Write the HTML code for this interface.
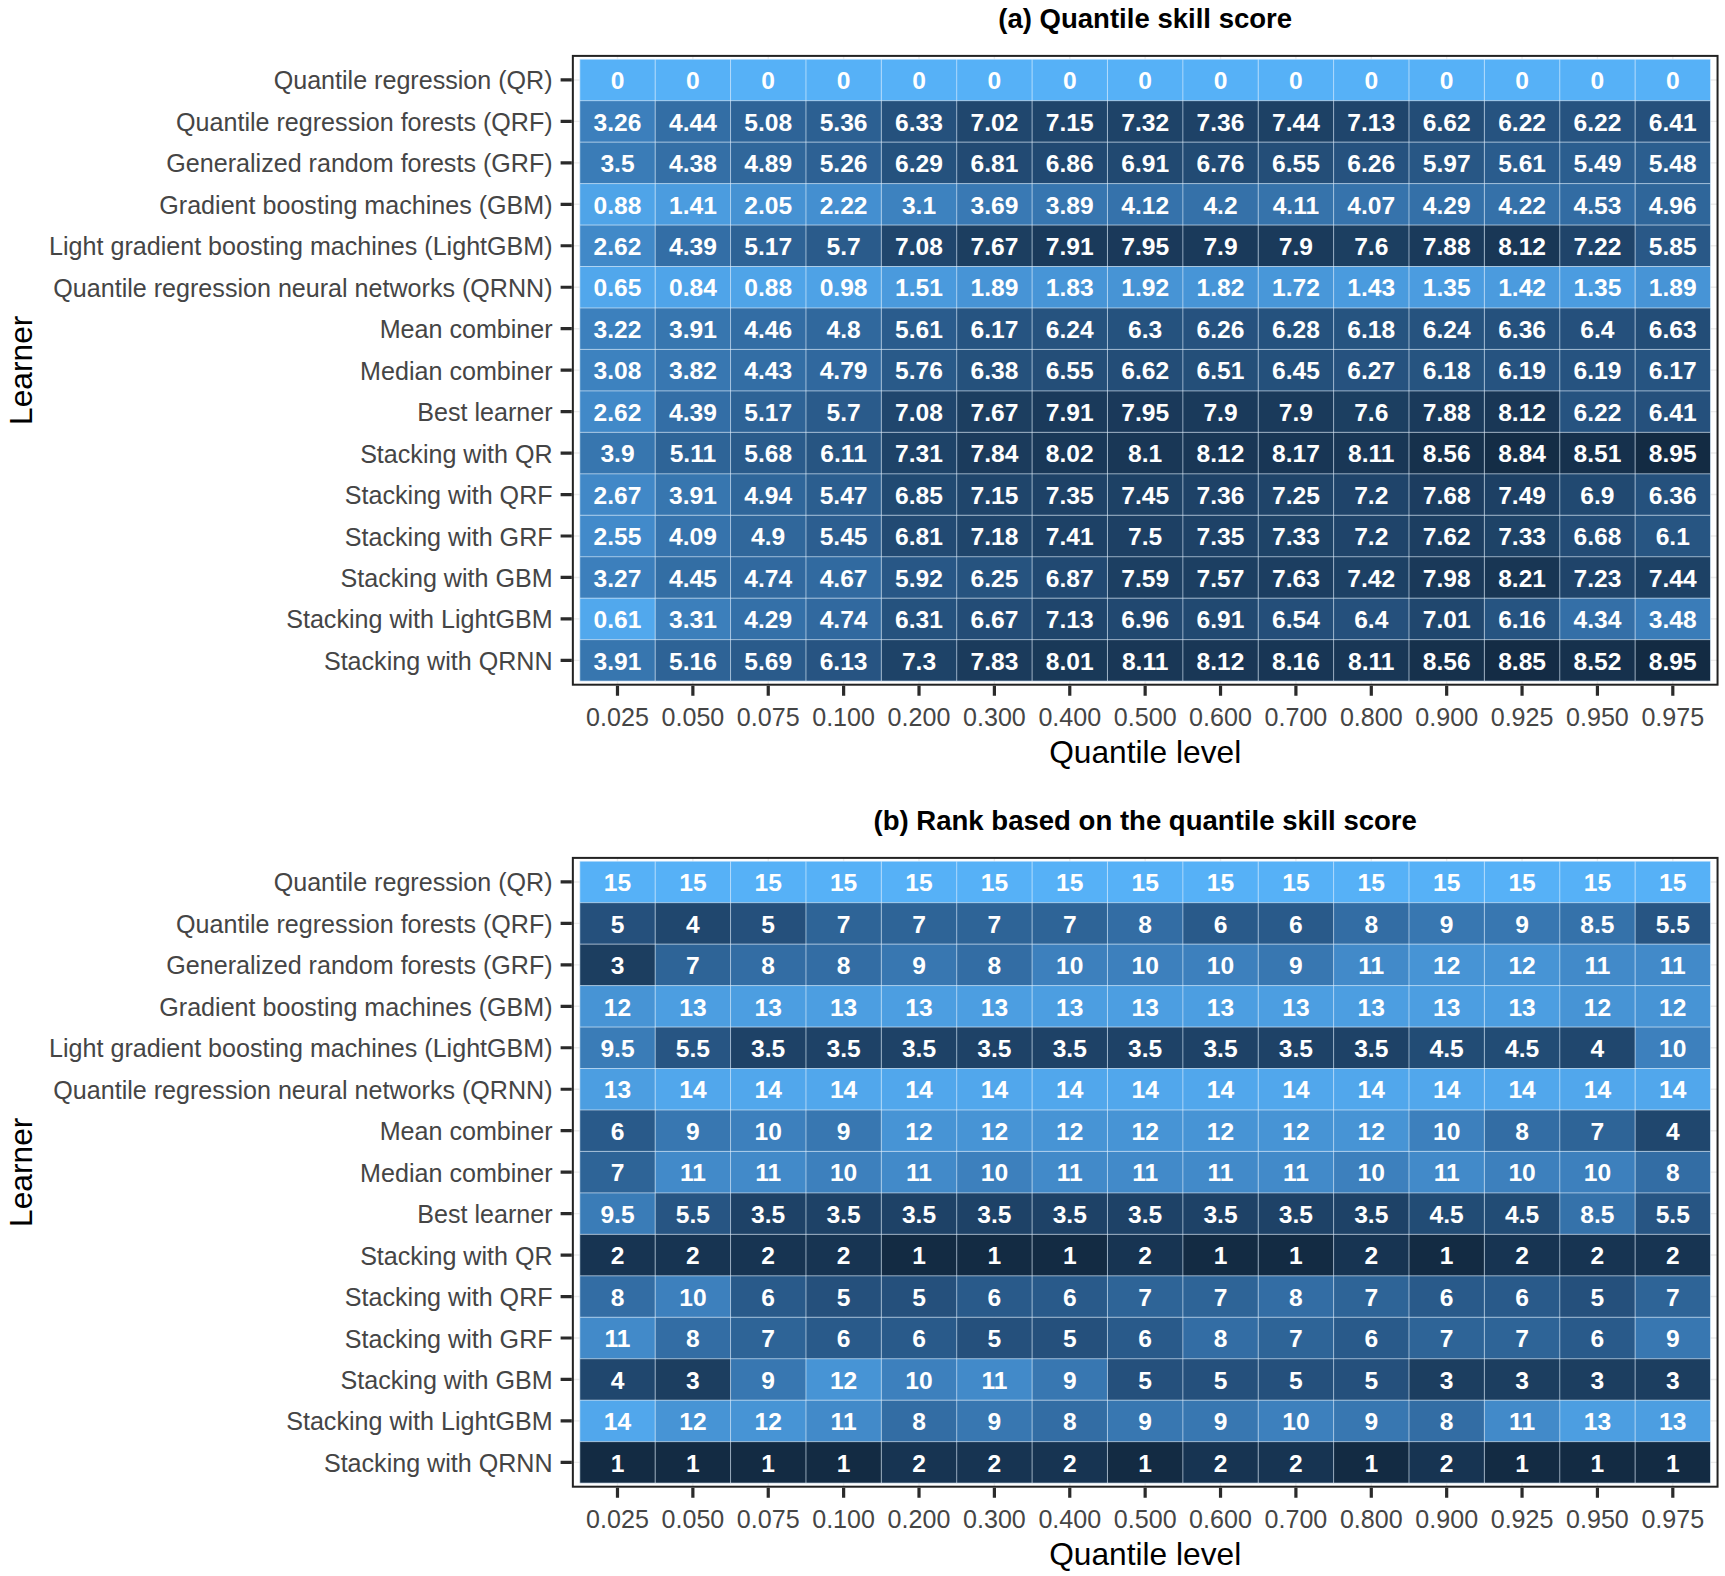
<!DOCTYPE html>
<html lang="en"><head><meta charset="utf-8"><title>Quantile skill score heatmaps</title>
<style>
html,body{margin:0;padding:0;background:#fff;}
body{width:1725px;height:1576px;overflow:hidden;}
svg{display:block;font-family:"Liberation Sans",Arial,Helvetica,sans-serif;}
.tt{font-size:27.55px;font-weight:bold;fill:#000;}
.ax text{font-size:25.1px;fill:#454545;}
.at{font-size:31.7px;fill:#000;}
.cl text{font-size:24.6px;font-weight:bold;fill:#fff;}
</style></head><body>
<svg width="1725" height="1576" viewBox="0 0 1725 1576">
<rect width="1725" height="1576" fill="#ffffff"/>
<g transform="translate(0,0)">
<text class="tt" x="1145.2" y="27.6" text-anchor="middle">(a) Quantile skill score</text>
<path d="M572.9 79.93H1717.5M572.9 121.39H1717.5M572.9 162.85H1717.5M572.9 204.31H1717.5M572.9 245.77H1717.5M572.9 287.23H1717.5M572.9 328.69H1717.5M572.9 370.15H1717.5M572.9 411.61H1717.5M572.9 453.07H1717.5M572.9 494.53H1717.5M572.9 535.99H1717.5M572.9 577.45H1717.5M572.9 618.91H1717.5M572.9 660.37H1717.5M617.49 55.9V684.7M692.87 55.9V684.7M768.25 55.9V684.7M843.63 55.9V684.7M919.01 55.9V684.7M994.39 55.9V684.7M1069.77 55.9V684.7M1145.15 55.9V684.7M1220.53 55.9V684.7M1295.91 55.9V684.7M1371.29 55.9V684.7M1446.67 55.9V684.7M1522.05 55.9V684.7M1597.43 55.9V684.7M1672.81 55.9V684.7" stroke="#ebebeb" stroke-width="1.4" fill="none"/>
<rect x="579.80" y="59.20" width="75.68" height="41.76" fill="#56b1f7"/>
<rect x="655.18" y="59.20" width="75.68" height="41.76" fill="#56b1f7"/>
<rect x="730.56" y="59.20" width="75.68" height="41.76" fill="#56b1f7"/>
<rect x="805.94" y="59.20" width="75.68" height="41.76" fill="#56b1f7"/>
<rect x="881.32" y="59.20" width="75.68" height="41.76" fill="#56b1f7"/>
<rect x="956.70" y="59.20" width="75.68" height="41.76" fill="#56b1f7"/>
<rect x="1032.08" y="59.20" width="75.68" height="41.76" fill="#56b1f7"/>
<rect x="1107.46" y="59.20" width="75.68" height="41.76" fill="#56b1f7"/>
<rect x="1182.84" y="59.20" width="75.68" height="41.76" fill="#56b1f7"/>
<rect x="1258.22" y="59.20" width="75.68" height="41.76" fill="#56b1f7"/>
<rect x="1333.60" y="59.20" width="75.68" height="41.76" fill="#56b1f7"/>
<rect x="1408.98" y="59.20" width="75.68" height="41.76" fill="#56b1f7"/>
<rect x="1484.36" y="59.20" width="75.68" height="41.76" fill="#56b1f7"/>
<rect x="1559.74" y="59.20" width="75.68" height="41.76" fill="#56b1f7"/>
<rect x="1635.12" y="59.20" width="75.38" height="41.76" fill="#56b1f7"/>
<rect x="579.80" y="100.66" width="75.68" height="41.76" fill="#3c7fbc"/>
<rect x="655.18" y="100.66" width="75.68" height="41.76" fill="#336ea5"/>
<rect x="730.56" y="100.66" width="75.68" height="41.76" fill="#2e6498"/>
<rect x="805.94" y="100.66" width="75.68" height="41.76" fill="#2c6092"/>
<rect x="881.32" y="100.66" width="75.68" height="41.76" fill="#25517d"/>
<rect x="956.70" y="100.66" width="75.68" height="41.76" fill="#20476e"/>
<rect x="1032.08" y="100.66" width="75.68" height="41.76" fill="#1f456b"/>
<rect x="1107.46" y="100.66" width="75.68" height="41.76" fill="#1e4368"/>
<rect x="1182.84" y="100.66" width="75.68" height="41.76" fill="#1e4267"/>
<rect x="1258.22" y="100.66" width="75.68" height="41.76" fill="#1d4165"/>
<rect x="1333.60" y="100.66" width="75.68" height="41.76" fill="#1f456c"/>
<rect x="1408.98" y="100.66" width="75.68" height="41.76" fill="#234d77"/>
<rect x="1484.36" y="100.66" width="75.68" height="41.76" fill="#265380"/>
<rect x="1559.74" y="100.66" width="75.68" height="41.76" fill="#265380"/>
<rect x="1635.12" y="100.66" width="75.38" height="41.76" fill="#25507c"/>
<rect x="579.80" y="142.12" width="75.68" height="41.76" fill="#3a7cb7"/>
<rect x="655.18" y="142.12" width="75.68" height="41.76" fill="#346fa6"/>
<rect x="730.56" y="142.12" width="75.68" height="41.76" fill="#30679b"/>
<rect x="805.94" y="142.12" width="75.68" height="41.76" fill="#2d6194"/>
<rect x="881.32" y="142.12" width="75.68" height="41.76" fill="#25527e"/>
<rect x="956.70" y="142.12" width="75.68" height="41.76" fill="#224a73"/>
<rect x="1032.08" y="142.12" width="75.68" height="41.76" fill="#214972"/>
<rect x="1107.46" y="142.12" width="75.68" height="41.76" fill="#214971"/>
<rect x="1182.84" y="142.12" width="75.68" height="41.76" fill="#224b74"/>
<rect x="1258.22" y="142.12" width="75.68" height="41.76" fill="#244e78"/>
<rect x="1333.60" y="142.12" width="75.68" height="41.76" fill="#26527f"/>
<rect x="1408.98" y="142.12" width="75.68" height="41.76" fill="#285785"/>
<rect x="1484.36" y="142.12" width="75.68" height="41.76" fill="#2a5c8d"/>
<rect x="1559.74" y="142.12" width="75.68" height="41.76" fill="#2b5e8f"/>
<rect x="1635.12" y="142.12" width="75.38" height="41.76" fill="#2b5e8f"/>
<rect x="579.80" y="183.58" width="75.68" height="41.76" fill="#4fa4e8"/>
<rect x="655.18" y="183.58" width="75.68" height="41.76" fill="#4b9cdf"/>
<rect x="730.56" y="183.58" width="75.68" height="41.76" fill="#4692d3"/>
<rect x="805.94" y="183.58" width="75.68" height="41.76" fill="#448fd0"/>
<rect x="881.32" y="183.58" width="75.68" height="41.76" fill="#3d82bf"/>
<rect x="956.70" y="183.58" width="75.68" height="41.76" fill="#3979b4"/>
<rect x="1032.08" y="183.58" width="75.68" height="41.76" fill="#3776b0"/>
<rect x="1107.46" y="183.58" width="75.68" height="41.76" fill="#3572ab"/>
<rect x="1182.84" y="183.58" width="75.68" height="41.76" fill="#3571a9"/>
<rect x="1258.22" y="183.58" width="75.68" height="41.76" fill="#3673ab"/>
<rect x="1333.60" y="183.58" width="75.68" height="41.76" fill="#3673ac"/>
<rect x="1408.98" y="183.58" width="75.68" height="41.76" fill="#3470a8"/>
<rect x="1484.36" y="183.58" width="75.68" height="41.76" fill="#3571a9"/>
<rect x="1559.74" y="183.58" width="75.68" height="41.76" fill="#326ca3"/>
<rect x="1635.12" y="183.58" width="75.38" height="41.76" fill="#2f669a"/>
<rect x="579.80" y="225.04" width="75.68" height="41.76" fill="#4189c8"/>
<rect x="655.18" y="225.04" width="75.68" height="41.76" fill="#336ea6"/>
<rect x="730.56" y="225.04" width="75.68" height="41.76" fill="#2e6396"/>
<rect x="805.94" y="225.04" width="75.68" height="41.76" fill="#2a5b8b"/>
<rect x="881.32" y="225.04" width="75.68" height="41.76" fill="#20466d"/>
<rect x="956.70" y="225.04" width="75.68" height="41.76" fill="#1c3e60"/>
<rect x="1032.08" y="225.04" width="75.68" height="41.76" fill="#1a3a5b"/>
<rect x="1107.46" y="225.04" width="75.68" height="41.76" fill="#1a395a"/>
<rect x="1182.84" y="225.04" width="75.68" height="41.76" fill="#1a3a5b"/>
<rect x="1258.22" y="225.04" width="75.68" height="41.76" fill="#1a3a5b"/>
<rect x="1333.60" y="225.04" width="75.68" height="41.76" fill="#1c3f61"/>
<rect x="1408.98" y="225.04" width="75.68" height="41.76" fill="#1a3a5b"/>
<rect x="1484.36" y="225.04" width="75.68" height="41.76" fill="#193756"/>
<rect x="1559.74" y="225.04" width="75.68" height="41.76" fill="#1f446a"/>
<rect x="1635.12" y="225.04" width="75.38" height="41.76" fill="#295887"/>
<rect x="579.80" y="266.50" width="75.68" height="41.76" fill="#51a7ec"/>
<rect x="655.18" y="266.50" width="75.68" height="41.76" fill="#4fa4e9"/>
<rect x="730.56" y="266.50" width="75.68" height="41.76" fill="#4fa4e8"/>
<rect x="805.94" y="266.50" width="75.68" height="41.76" fill="#4ea2e6"/>
<rect x="881.32" y="266.50" width="75.68" height="41.76" fill="#4a9add"/>
<rect x="956.70" y="266.50" width="75.68" height="41.76" fill="#4794d6"/>
<rect x="1032.08" y="266.50" width="75.68" height="41.76" fill="#4795d7"/>
<rect x="1107.46" y="266.50" width="75.68" height="41.76" fill="#4794d5"/>
<rect x="1182.84" y="266.50" width="75.68" height="41.76" fill="#4795d7"/>
<rect x="1258.22" y="266.50" width="75.68" height="41.76" fill="#4897d9"/>
<rect x="1333.60" y="266.50" width="75.68" height="41.76" fill="#4a9bde"/>
<rect x="1408.98" y="266.50" width="75.68" height="41.76" fill="#4b9ce0"/>
<rect x="1484.36" y="266.50" width="75.68" height="41.76" fill="#4b9bde"/>
<rect x="1559.74" y="266.50" width="75.68" height="41.76" fill="#4b9ce0"/>
<rect x="1635.12" y="266.50" width="75.38" height="41.76" fill="#4794d6"/>
<rect x="579.80" y="307.96" width="75.68" height="41.76" fill="#3c80bd"/>
<rect x="655.18" y="307.96" width="75.68" height="41.76" fill="#3776af"/>
<rect x="730.56" y="307.96" width="75.68" height="41.76" fill="#336da4"/>
<rect x="805.94" y="307.96" width="75.68" height="41.76" fill="#30689d"/>
<rect x="881.32" y="307.96" width="75.68" height="41.76" fill="#2a5c8d"/>
<rect x="956.70" y="307.96" width="75.68" height="41.76" fill="#265481"/>
<rect x="1032.08" y="307.96" width="75.68" height="41.76" fill="#26537f"/>
<rect x="1107.46" y="307.96" width="75.68" height="41.76" fill="#25527e"/>
<rect x="1182.84" y="307.96" width="75.68" height="41.76" fill="#26527f"/>
<rect x="1258.22" y="307.96" width="75.68" height="41.76" fill="#25527e"/>
<rect x="1333.60" y="307.96" width="75.68" height="41.76" fill="#265480"/>
<rect x="1408.98" y="307.96" width="75.68" height="41.76" fill="#26537f"/>
<rect x="1484.36" y="307.96" width="75.68" height="41.76" fill="#25517d"/>
<rect x="1559.74" y="307.96" width="75.68" height="41.76" fill="#25507c"/>
<rect x="1635.12" y="307.96" width="75.38" height="41.76" fill="#234d77"/>
<rect x="579.80" y="349.42" width="75.68" height="41.76" fill="#3d82bf"/>
<rect x="655.18" y="349.42" width="75.68" height="41.76" fill="#3877b1"/>
<rect x="730.56" y="349.42" width="75.68" height="41.76" fill="#336ea5"/>
<rect x="805.94" y="349.42" width="75.68" height="41.76" fill="#30689e"/>
<rect x="881.32" y="349.42" width="75.68" height="41.76" fill="#295a89"/>
<rect x="956.70" y="349.42" width="75.68" height="41.76" fill="#25517c"/>
<rect x="1032.08" y="349.42" width="75.68" height="41.76" fill="#244e78"/>
<rect x="1107.46" y="349.42" width="75.68" height="41.76" fill="#234d77"/>
<rect x="1182.84" y="349.42" width="75.68" height="41.76" fill="#244f79"/>
<rect x="1258.22" y="349.42" width="75.68" height="41.76" fill="#24507b"/>
<rect x="1333.60" y="349.42" width="75.68" height="41.76" fill="#26527f"/>
<rect x="1408.98" y="349.42" width="75.68" height="41.76" fill="#265480"/>
<rect x="1484.36" y="349.42" width="75.68" height="41.76" fill="#265380"/>
<rect x="1559.74" y="349.42" width="75.68" height="41.76" fill="#265380"/>
<rect x="1635.12" y="349.42" width="75.38" height="41.76" fill="#265481"/>
<rect x="579.80" y="390.88" width="75.68" height="41.76" fill="#4189c8"/>
<rect x="655.18" y="390.88" width="75.68" height="41.76" fill="#336ea6"/>
<rect x="730.56" y="390.88" width="75.68" height="41.76" fill="#2e6396"/>
<rect x="805.94" y="390.88" width="75.68" height="41.76" fill="#2a5b8b"/>
<rect x="881.32" y="390.88" width="75.68" height="41.76" fill="#20466d"/>
<rect x="956.70" y="390.88" width="75.68" height="41.76" fill="#1c3e60"/>
<rect x="1032.08" y="390.88" width="75.68" height="41.76" fill="#1a3a5b"/>
<rect x="1107.46" y="390.88" width="75.68" height="41.76" fill="#1a395a"/>
<rect x="1182.84" y="390.88" width="75.68" height="41.76" fill="#1a3a5b"/>
<rect x="1258.22" y="390.88" width="75.68" height="41.76" fill="#1a3a5b"/>
<rect x="1333.60" y="390.88" width="75.68" height="41.76" fill="#1c3f61"/>
<rect x="1408.98" y="390.88" width="75.68" height="41.76" fill="#1a3a5b"/>
<rect x="1484.36" y="390.88" width="75.68" height="41.76" fill="#193756"/>
<rect x="1559.74" y="390.88" width="75.68" height="41.76" fill="#265380"/>
<rect x="1635.12" y="390.88" width="75.38" height="41.76" fill="#25507c"/>
<rect x="579.80" y="432.34" width="75.68" height="41.76" fill="#3776af"/>
<rect x="655.18" y="432.34" width="75.68" height="41.76" fill="#2e6497"/>
<rect x="730.56" y="432.34" width="75.68" height="41.76" fill="#2a5b8b"/>
<rect x="805.94" y="432.34" width="75.68" height="41.76" fill="#275582"/>
<rect x="881.32" y="432.34" width="75.68" height="41.76" fill="#1e4368"/>
<rect x="956.70" y="432.34" width="75.68" height="41.76" fill="#1b3b5c"/>
<rect x="1032.08" y="432.34" width="75.68" height="41.76" fill="#193858"/>
<rect x="1107.46" y="432.34" width="75.68" height="41.76" fill="#193756"/>
<rect x="1182.84" y="432.34" width="75.68" height="41.76" fill="#193756"/>
<rect x="1258.22" y="432.34" width="75.68" height="41.76" fill="#183655"/>
<rect x="1333.60" y="432.34" width="75.68" height="41.76" fill="#193756"/>
<rect x="1408.98" y="432.34" width="75.68" height="41.76" fill="#16314c"/>
<rect x="1484.36" y="432.34" width="75.68" height="41.76" fill="#142d46"/>
<rect x="1559.74" y="432.34" width="75.68" height="41.76" fill="#16314d"/>
<rect x="1635.12" y="432.34" width="75.38" height="41.76" fill="#132b43"/>
<rect x="579.80" y="473.80" width="75.68" height="41.76" fill="#4188c7"/>
<rect x="655.18" y="473.80" width="75.68" height="41.76" fill="#3776af"/>
<rect x="730.56" y="473.80" width="75.68" height="41.76" fill="#2f669a"/>
<rect x="805.94" y="473.80" width="75.68" height="41.76" fill="#2b5e8f"/>
<rect x="881.32" y="473.80" width="75.68" height="41.76" fill="#214a72"/>
<rect x="956.70" y="473.80" width="75.68" height="41.76" fill="#1f456b"/>
<rect x="1032.08" y="473.80" width="75.68" height="41.76" fill="#1e4267"/>
<rect x="1107.46" y="473.80" width="75.68" height="41.76" fill="#1d4165"/>
<rect x="1182.84" y="473.80" width="75.68" height="41.76" fill="#1e4267"/>
<rect x="1258.22" y="473.80" width="75.68" height="41.76" fill="#1f4469"/>
<rect x="1333.60" y="473.80" width="75.68" height="41.76" fill="#1f446a"/>
<rect x="1408.98" y="473.80" width="75.68" height="41.76" fill="#1c3d60"/>
<rect x="1484.36" y="473.80" width="75.68" height="41.76" fill="#1d4064"/>
<rect x="1559.74" y="473.80" width="75.68" height="41.76" fill="#214971"/>
<rect x="1635.12" y="473.80" width="75.38" height="41.76" fill="#25517d"/>
<rect x="579.80" y="515.26" width="75.68" height="41.76" fill="#428aca"/>
<rect x="655.18" y="515.26" width="75.68" height="41.76" fill="#3673ac"/>
<rect x="730.56" y="515.26" width="75.68" height="41.76" fill="#30679b"/>
<rect x="805.94" y="515.26" width="75.68" height="41.76" fill="#2c5e90"/>
<rect x="881.32" y="515.26" width="75.68" height="41.76" fill="#224a73"/>
<rect x="956.70" y="515.26" width="75.68" height="41.76" fill="#1f456b"/>
<rect x="1032.08" y="515.26" width="75.68" height="41.76" fill="#1d4166"/>
<rect x="1107.46" y="515.26" width="75.68" height="41.76" fill="#1d4064"/>
<rect x="1182.84" y="515.26" width="75.68" height="41.76" fill="#1e4267"/>
<rect x="1258.22" y="515.26" width="75.68" height="41.76" fill="#1e4367"/>
<rect x="1333.60" y="515.26" width="75.68" height="41.76" fill="#1f446a"/>
<rect x="1408.98" y="515.26" width="75.68" height="41.76" fill="#1c3e61"/>
<rect x="1484.36" y="515.26" width="75.68" height="41.76" fill="#1e4367"/>
<rect x="1559.74" y="515.26" width="75.68" height="41.76" fill="#234c76"/>
<rect x="1635.12" y="515.26" width="75.38" height="41.76" fill="#275582"/>
<rect x="579.80" y="556.72" width="75.68" height="41.76" fill="#3c7fbc"/>
<rect x="655.18" y="556.72" width="75.68" height="41.76" fill="#336ea4"/>
<rect x="730.56" y="556.72" width="75.68" height="41.76" fill="#31699f"/>
<rect x="805.94" y="556.72" width="75.68" height="41.76" fill="#316aa0"/>
<rect x="881.32" y="556.72" width="75.68" height="41.76" fill="#285786"/>
<rect x="956.70" y="556.72" width="75.68" height="41.76" fill="#26537f"/>
<rect x="1032.08" y="556.72" width="75.68" height="41.76" fill="#214972"/>
<rect x="1107.46" y="556.72" width="75.68" height="41.76" fill="#1c3f62"/>
<rect x="1182.84" y="556.72" width="75.68" height="41.76" fill="#1c3f62"/>
<rect x="1258.22" y="556.72" width="75.68" height="41.76" fill="#1c3e61"/>
<rect x="1333.60" y="556.72" width="75.68" height="41.76" fill="#1d4165"/>
<rect x="1408.98" y="556.72" width="75.68" height="41.76" fill="#1a3959"/>
<rect x="1484.36" y="556.72" width="75.68" height="41.76" fill="#183654"/>
<rect x="1559.74" y="556.72" width="75.68" height="41.76" fill="#1f446a"/>
<rect x="1635.12" y="556.72" width="75.38" height="41.76" fill="#1d4165"/>
<rect x="579.80" y="598.18" width="75.68" height="41.76" fill="#51a8ed"/>
<rect x="655.18" y="598.18" width="75.68" height="41.76" fill="#3c7fbb"/>
<rect x="730.56" y="598.18" width="75.68" height="41.76" fill="#3470a8"/>
<rect x="805.94" y="598.18" width="75.68" height="41.76" fill="#31699f"/>
<rect x="881.32" y="598.18" width="75.68" height="41.76" fill="#25527e"/>
<rect x="956.70" y="598.18" width="75.68" height="41.76" fill="#234c76"/>
<rect x="1032.08" y="598.18" width="75.68" height="41.76" fill="#1f456c"/>
<rect x="1107.46" y="598.18" width="75.68" height="41.76" fill="#214870"/>
<rect x="1182.84" y="598.18" width="75.68" height="41.76" fill="#214971"/>
<rect x="1258.22" y="598.18" width="75.68" height="41.76" fill="#244e79"/>
<rect x="1333.60" y="598.18" width="75.68" height="41.76" fill="#25507c"/>
<rect x="1408.98" y="598.18" width="75.68" height="41.76" fill="#20476e"/>
<rect x="1484.36" y="598.18" width="75.68" height="41.76" fill="#265481"/>
<rect x="1559.74" y="598.18" width="75.68" height="41.76" fill="#346fa7"/>
<rect x="1635.12" y="598.18" width="75.38" height="41.76" fill="#3a7cb8"/>
<rect x="579.80" y="639.64" width="75.68" height="41.46" fill="#3776af"/>
<rect x="655.18" y="639.64" width="75.68" height="41.46" fill="#2e6396"/>
<rect x="730.56" y="639.64" width="75.68" height="41.46" fill="#2a5b8b"/>
<rect x="805.94" y="639.64" width="75.68" height="41.46" fill="#275482"/>
<rect x="881.32" y="639.64" width="75.68" height="41.46" fill="#1e4368"/>
<rect x="956.70" y="639.64" width="75.68" height="41.46" fill="#1b3b5c"/>
<rect x="1032.08" y="639.64" width="75.68" height="41.46" fill="#193958"/>
<rect x="1107.46" y="639.64" width="75.68" height="41.46" fill="#193756"/>
<rect x="1182.84" y="639.64" width="75.68" height="41.46" fill="#193756"/>
<rect x="1258.22" y="639.64" width="75.68" height="41.46" fill="#183655"/>
<rect x="1333.60" y="639.64" width="75.68" height="41.46" fill="#193756"/>
<rect x="1408.98" y="639.64" width="75.68" height="41.46" fill="#16314c"/>
<rect x="1484.36" y="639.64" width="75.68" height="41.46" fill="#142c45"/>
<rect x="1559.74" y="639.64" width="75.68" height="41.46" fill="#16314d"/>
<rect x="1635.12" y="639.64" width="75.38" height="41.46" fill="#132b43"/>
<path d="M579.8 59.20H1710.5M579.8 100.66H1710.5M579.8 142.12H1710.5M579.8 183.58H1710.5M579.8 225.04H1710.5M579.8 266.50H1710.5M579.8 307.96H1710.5M579.8 349.42H1710.5M579.8 390.88H1710.5M579.8 432.34H1710.5M579.8 473.80H1710.5M579.8 515.26H1710.5M579.8 556.72H1710.5M579.8 598.18H1710.5M579.8 639.64H1710.5M579.8 681.10H1710.5M579.80 59.2V681.1M655.18 59.2V681.1M730.56 59.2V681.1M805.94 59.2V681.1M881.32 59.2V681.1M956.70 59.2V681.1M1032.08 59.2V681.1M1107.46 59.2V681.1M1182.84 59.2V681.1M1258.22 59.2V681.1M1333.60 59.2V681.1M1408.98 59.2V681.1M1484.36 59.2V681.1M1559.74 59.2V681.1M1635.12 59.2V681.1M1710.50 59.2V681.1" stroke="#e4f2ff" stroke-opacity="0.62" stroke-width="1.0" fill="none"/>
<g class="cl" text-anchor="middle">
<text x="617.5" y="89.1">0</text>
<text x="692.9" y="89.1">0</text>
<text x="768.2" y="89.1">0</text>
<text x="843.6" y="89.1">0</text>
<text x="919.0" y="89.1">0</text>
<text x="994.4" y="89.1">0</text>
<text x="1069.8" y="89.1">0</text>
<text x="1145.2" y="89.1">0</text>
<text x="1220.5" y="89.1">0</text>
<text x="1295.9" y="89.1">0</text>
<text x="1371.3" y="89.1">0</text>
<text x="1446.7" y="89.1">0</text>
<text x="1522.1" y="89.1">0</text>
<text x="1597.4" y="89.1">0</text>
<text x="1672.8" y="89.1">0</text>
<text x="617.5" y="130.6">3.26</text>
<text x="692.9" y="130.6">4.44</text>
<text x="768.2" y="130.6">5.08</text>
<text x="843.6" y="130.6">5.36</text>
<text x="919.0" y="130.6">6.33</text>
<text x="994.4" y="130.6">7.02</text>
<text x="1069.8" y="130.6">7.15</text>
<text x="1145.2" y="130.6">7.32</text>
<text x="1220.5" y="130.6">7.36</text>
<text x="1295.9" y="130.6">7.44</text>
<text x="1371.3" y="130.6">7.13</text>
<text x="1446.7" y="130.6">6.62</text>
<text x="1522.1" y="130.6">6.22</text>
<text x="1597.4" y="130.6">6.22</text>
<text x="1672.8" y="130.6">6.41</text>
<text x="617.5" y="172.1">3.5</text>
<text x="692.9" y="172.1">4.38</text>
<text x="768.2" y="172.1">4.89</text>
<text x="843.6" y="172.1">5.26</text>
<text x="919.0" y="172.1">6.29</text>
<text x="994.4" y="172.1">6.81</text>
<text x="1069.8" y="172.1">6.86</text>
<text x="1145.2" y="172.1">6.91</text>
<text x="1220.5" y="172.1">6.76</text>
<text x="1295.9" y="172.1">6.55</text>
<text x="1371.3" y="172.1">6.26</text>
<text x="1446.7" y="172.1">5.97</text>
<text x="1522.1" y="172.1">5.61</text>
<text x="1597.4" y="172.1">5.49</text>
<text x="1672.8" y="172.1">5.48</text>
<text x="617.5" y="213.5">0.88</text>
<text x="692.9" y="213.5">1.41</text>
<text x="768.2" y="213.5">2.05</text>
<text x="843.6" y="213.5">2.22</text>
<text x="919.0" y="213.5">3.1</text>
<text x="994.4" y="213.5">3.69</text>
<text x="1069.8" y="213.5">3.89</text>
<text x="1145.2" y="213.5">4.12</text>
<text x="1220.5" y="213.5">4.2</text>
<text x="1295.9" y="213.5">4.11</text>
<text x="1371.3" y="213.5">4.07</text>
<text x="1446.7" y="213.5">4.29</text>
<text x="1522.1" y="213.5">4.22</text>
<text x="1597.4" y="213.5">4.53</text>
<text x="1672.8" y="213.5">4.96</text>
<text x="617.5" y="255.0">2.62</text>
<text x="692.9" y="255.0">4.39</text>
<text x="768.2" y="255.0">5.17</text>
<text x="843.6" y="255.0">5.7</text>
<text x="919.0" y="255.0">7.08</text>
<text x="994.4" y="255.0">7.67</text>
<text x="1069.8" y="255.0">7.91</text>
<text x="1145.2" y="255.0">7.95</text>
<text x="1220.5" y="255.0">7.9</text>
<text x="1295.9" y="255.0">7.9</text>
<text x="1371.3" y="255.0">7.6</text>
<text x="1446.7" y="255.0">7.88</text>
<text x="1522.1" y="255.0">8.12</text>
<text x="1597.4" y="255.0">7.22</text>
<text x="1672.8" y="255.0">5.85</text>
<text x="617.5" y="296.4">0.65</text>
<text x="692.9" y="296.4">0.84</text>
<text x="768.2" y="296.4">0.88</text>
<text x="843.6" y="296.4">0.98</text>
<text x="919.0" y="296.4">1.51</text>
<text x="994.4" y="296.4">1.89</text>
<text x="1069.8" y="296.4">1.83</text>
<text x="1145.2" y="296.4">1.92</text>
<text x="1220.5" y="296.4">1.82</text>
<text x="1295.9" y="296.4">1.72</text>
<text x="1371.3" y="296.4">1.43</text>
<text x="1446.7" y="296.4">1.35</text>
<text x="1522.1" y="296.4">1.42</text>
<text x="1597.4" y="296.4">1.35</text>
<text x="1672.8" y="296.4">1.89</text>
<text x="617.5" y="337.9">3.22</text>
<text x="692.9" y="337.9">3.91</text>
<text x="768.2" y="337.9">4.46</text>
<text x="843.6" y="337.9">4.8</text>
<text x="919.0" y="337.9">5.61</text>
<text x="994.4" y="337.9">6.17</text>
<text x="1069.8" y="337.9">6.24</text>
<text x="1145.2" y="337.9">6.3</text>
<text x="1220.5" y="337.9">6.26</text>
<text x="1295.9" y="337.9">6.28</text>
<text x="1371.3" y="337.9">6.18</text>
<text x="1446.7" y="337.9">6.24</text>
<text x="1522.1" y="337.9">6.36</text>
<text x="1597.4" y="337.9">6.4</text>
<text x="1672.8" y="337.9">6.63</text>
<text x="617.5" y="379.3">3.08</text>
<text x="692.9" y="379.3">3.82</text>
<text x="768.2" y="379.3">4.43</text>
<text x="843.6" y="379.3">4.79</text>
<text x="919.0" y="379.3">5.76</text>
<text x="994.4" y="379.3">6.38</text>
<text x="1069.8" y="379.3">6.55</text>
<text x="1145.2" y="379.3">6.62</text>
<text x="1220.5" y="379.3">6.51</text>
<text x="1295.9" y="379.3">6.45</text>
<text x="1371.3" y="379.3">6.27</text>
<text x="1446.7" y="379.3">6.18</text>
<text x="1522.1" y="379.3">6.19</text>
<text x="1597.4" y="379.3">6.19</text>
<text x="1672.8" y="379.3">6.17</text>
<text x="617.5" y="420.8">2.62</text>
<text x="692.9" y="420.8">4.39</text>
<text x="768.2" y="420.8">5.17</text>
<text x="843.6" y="420.8">5.7</text>
<text x="919.0" y="420.8">7.08</text>
<text x="994.4" y="420.8">7.67</text>
<text x="1069.8" y="420.8">7.91</text>
<text x="1145.2" y="420.8">7.95</text>
<text x="1220.5" y="420.8">7.9</text>
<text x="1295.9" y="420.8">7.9</text>
<text x="1371.3" y="420.8">7.6</text>
<text x="1446.7" y="420.8">7.88</text>
<text x="1522.1" y="420.8">8.12</text>
<text x="1597.4" y="420.8">6.22</text>
<text x="1672.8" y="420.8">6.41</text>
<text x="617.5" y="462.3">3.9</text>
<text x="692.9" y="462.3">5.11</text>
<text x="768.2" y="462.3">5.68</text>
<text x="843.6" y="462.3">6.11</text>
<text x="919.0" y="462.3">7.31</text>
<text x="994.4" y="462.3">7.84</text>
<text x="1069.8" y="462.3">8.02</text>
<text x="1145.2" y="462.3">8.1</text>
<text x="1220.5" y="462.3">8.12</text>
<text x="1295.9" y="462.3">8.17</text>
<text x="1371.3" y="462.3">8.11</text>
<text x="1446.7" y="462.3">8.56</text>
<text x="1522.1" y="462.3">8.84</text>
<text x="1597.4" y="462.3">8.51</text>
<text x="1672.8" y="462.3">8.95</text>
<text x="617.5" y="503.7">2.67</text>
<text x="692.9" y="503.7">3.91</text>
<text x="768.2" y="503.7">4.94</text>
<text x="843.6" y="503.7">5.47</text>
<text x="919.0" y="503.7">6.85</text>
<text x="994.4" y="503.7">7.15</text>
<text x="1069.8" y="503.7">7.35</text>
<text x="1145.2" y="503.7">7.45</text>
<text x="1220.5" y="503.7">7.36</text>
<text x="1295.9" y="503.7">7.25</text>
<text x="1371.3" y="503.7">7.2</text>
<text x="1446.7" y="503.7">7.68</text>
<text x="1522.1" y="503.7">7.49</text>
<text x="1597.4" y="503.7">6.9</text>
<text x="1672.8" y="503.7">6.36</text>
<text x="617.5" y="545.2">2.55</text>
<text x="692.9" y="545.2">4.09</text>
<text x="768.2" y="545.2">4.9</text>
<text x="843.6" y="545.2">5.45</text>
<text x="919.0" y="545.2">6.81</text>
<text x="994.4" y="545.2">7.18</text>
<text x="1069.8" y="545.2">7.41</text>
<text x="1145.2" y="545.2">7.5</text>
<text x="1220.5" y="545.2">7.35</text>
<text x="1295.9" y="545.2">7.33</text>
<text x="1371.3" y="545.2">7.2</text>
<text x="1446.7" y="545.2">7.62</text>
<text x="1522.1" y="545.2">7.33</text>
<text x="1597.4" y="545.2">6.68</text>
<text x="1672.8" y="545.2">6.1</text>
<text x="617.5" y="586.7">3.27</text>
<text x="692.9" y="586.7">4.45</text>
<text x="768.2" y="586.7">4.74</text>
<text x="843.6" y="586.7">4.67</text>
<text x="919.0" y="586.7">5.92</text>
<text x="994.4" y="586.7">6.25</text>
<text x="1069.8" y="586.7">6.87</text>
<text x="1145.2" y="586.7">7.59</text>
<text x="1220.5" y="586.7">7.57</text>
<text x="1295.9" y="586.7">7.63</text>
<text x="1371.3" y="586.7">7.42</text>
<text x="1446.7" y="586.7">7.98</text>
<text x="1522.1" y="586.7">8.21</text>
<text x="1597.4" y="586.7">7.23</text>
<text x="1672.8" y="586.7">7.44</text>
<text x="617.5" y="628.1">0.61</text>
<text x="692.9" y="628.1">3.31</text>
<text x="768.2" y="628.1">4.29</text>
<text x="843.6" y="628.1">4.74</text>
<text x="919.0" y="628.1">6.31</text>
<text x="994.4" y="628.1">6.67</text>
<text x="1069.8" y="628.1">7.13</text>
<text x="1145.2" y="628.1">6.96</text>
<text x="1220.5" y="628.1">6.91</text>
<text x="1295.9" y="628.1">6.54</text>
<text x="1371.3" y="628.1">6.4</text>
<text x="1446.7" y="628.1">7.01</text>
<text x="1522.1" y="628.1">6.16</text>
<text x="1597.4" y="628.1">4.34</text>
<text x="1672.8" y="628.1">3.48</text>
<text x="617.5" y="669.6">3.91</text>
<text x="692.9" y="669.6">5.16</text>
<text x="768.2" y="669.6">5.69</text>
<text x="843.6" y="669.6">6.13</text>
<text x="919.0" y="669.6">7.3</text>
<text x="994.4" y="669.6">7.83</text>
<text x="1069.8" y="669.6">8.01</text>
<text x="1145.2" y="669.6">8.11</text>
<text x="1220.5" y="669.6">8.12</text>
<text x="1295.9" y="669.6">8.16</text>
<text x="1371.3" y="669.6">8.11</text>
<text x="1446.7" y="669.6">8.56</text>
<text x="1522.1" y="669.6">8.85</text>
<text x="1597.4" y="669.6">8.52</text>
<text x="1672.8" y="669.6">8.95</text>
</g>
<rect x="572.85" y="55.9" width="1144.7" height="628.8" fill="none" stroke="#222222" stroke-width="2.0"/>
<path d="M560.6 79.93H571.8M560.6 121.39H571.8M560.6 162.85H571.8M560.6 204.31H571.8M560.6 245.77H571.8M560.6 287.23H571.8M560.6 328.69H571.8M560.6 370.15H571.8M560.6 411.61H571.8M560.6 453.07H571.8M560.6 494.53H571.8M560.6 535.99H571.8M560.6 577.45H571.8M560.6 618.91H571.8M560.6 660.37H571.8M617.49 685.8V695.8M692.87 685.8V695.8M768.25 685.8V695.8M843.63 685.8V695.8M919.01 685.8V695.8M994.39 685.8V695.8M1069.77 685.8V695.8M1145.15 685.8V695.8M1220.53 685.8V695.8M1295.91 685.8V695.8M1371.29 685.8V695.8M1446.67 685.8V695.8M1522.05 685.8V695.8M1597.43 685.8V695.8M1672.81 685.8V695.8" stroke="#2a2a2a" stroke-width="3.2" fill="none"/>
<g class="ax" text-anchor="end">
<text x="552.6" y="89.4">Quantile regression (QR)</text>
<text x="552.6" y="130.9">Quantile regression forests (QRF)</text>
<text x="552.6" y="172.4">Generalized random forests (GRF)</text>
<text x="552.6" y="213.8">Gradient boosting machines (GBM)</text>
<text x="552.6" y="255.3">Light gradient boosting machines (LightGBM)</text>
<text x="552.6" y="296.7">Quantile regression neural networks (QRNN)</text>
<text x="552.6" y="338.2">Mean combiner</text>
<text x="552.6" y="379.6">Median combiner</text>
<text x="552.6" y="421.1">Best learner</text>
<text x="552.6" y="462.6">Stacking with QR</text>
<text x="552.6" y="504.0">Stacking with QRF</text>
<text x="552.6" y="545.5">Stacking with GRF</text>
<text x="552.6" y="587.0">Stacking with GBM</text>
<text x="552.6" y="628.4">Stacking with LightGBM</text>
<text x="552.6" y="669.9">Stacking with QRNN</text>
</g>
<g class="ax" text-anchor="middle">
<text x="617.5" y="726.0">0.025</text>
<text x="692.9" y="726.0">0.050</text>
<text x="768.2" y="726.0">0.075</text>
<text x="843.6" y="726.0">0.100</text>
<text x="919.0" y="726.0">0.200</text>
<text x="994.4" y="726.0">0.300</text>
<text x="1069.8" y="726.0">0.400</text>
<text x="1145.2" y="726.0">0.500</text>
<text x="1220.5" y="726.0">0.600</text>
<text x="1295.9" y="726.0">0.700</text>
<text x="1371.3" y="726.0">0.800</text>
<text x="1446.7" y="726.0">0.900</text>
<text x="1522.1" y="726.0">0.925</text>
<text x="1597.4" y="726.0">0.950</text>
<text x="1672.8" y="726.0">0.975</text>
</g>
<text class="at" x="1145.2" y="762.6" text-anchor="middle">Quantile level</text>
<text class="at" transform="translate(32.4,370.3) rotate(-90)" text-anchor="middle">Learner</text>
</g>
<g transform="translate(0,802.0)">
<text class="tt" x="1145.2" y="27.6" text-anchor="middle">(b) Rank based on the quantile skill score</text>
<path d="M572.9 79.93H1717.5M572.9 121.39H1717.5M572.9 162.85H1717.5M572.9 204.31H1717.5M572.9 245.77H1717.5M572.9 287.23H1717.5M572.9 328.69H1717.5M572.9 370.15H1717.5M572.9 411.61H1717.5M572.9 453.07H1717.5M572.9 494.53H1717.5M572.9 535.99H1717.5M572.9 577.45H1717.5M572.9 618.91H1717.5M572.9 660.37H1717.5M617.49 55.9V684.7M692.87 55.9V684.7M768.25 55.9V684.7M843.63 55.9V684.7M919.01 55.9V684.7M994.39 55.9V684.7M1069.77 55.9V684.7M1145.15 55.9V684.7M1220.53 55.9V684.7M1295.91 55.9V684.7M1371.29 55.9V684.7M1446.67 55.9V684.7M1522.05 55.9V684.7M1597.43 55.9V684.7M1672.81 55.9V684.7" stroke="#ebebeb" stroke-width="1.4" fill="none"/>
<rect x="579.80" y="59.20" width="75.68" height="41.76" fill="#56b1f7"/>
<rect x="655.18" y="59.20" width="75.68" height="41.76" fill="#56b1f7"/>
<rect x="730.56" y="59.20" width="75.68" height="41.76" fill="#56b1f7"/>
<rect x="805.94" y="59.20" width="75.68" height="41.76" fill="#56b1f7"/>
<rect x="881.32" y="59.20" width="75.68" height="41.76" fill="#56b1f7"/>
<rect x="956.70" y="59.20" width="75.68" height="41.76" fill="#56b1f7"/>
<rect x="1032.08" y="59.20" width="75.68" height="41.76" fill="#56b1f7"/>
<rect x="1107.46" y="59.20" width="75.68" height="41.76" fill="#56b1f7"/>
<rect x="1182.84" y="59.20" width="75.68" height="41.76" fill="#56b1f7"/>
<rect x="1258.22" y="59.20" width="75.68" height="41.76" fill="#56b1f7"/>
<rect x="1333.60" y="59.20" width="75.68" height="41.76" fill="#56b1f7"/>
<rect x="1408.98" y="59.20" width="75.68" height="41.76" fill="#56b1f7"/>
<rect x="1484.36" y="59.20" width="75.68" height="41.76" fill="#56b1f7"/>
<rect x="1559.74" y="59.20" width="75.68" height="41.76" fill="#56b1f7"/>
<rect x="1635.12" y="59.20" width="75.38" height="41.76" fill="#56b1f7"/>
<rect x="579.80" y="100.66" width="75.68" height="41.76" fill="#25507c"/>
<rect x="655.18" y="100.66" width="75.68" height="41.76" fill="#20476e"/>
<rect x="730.56" y="100.66" width="75.68" height="41.76" fill="#25507c"/>
<rect x="805.94" y="100.66" width="75.68" height="41.76" fill="#2e6497"/>
<rect x="881.32" y="100.66" width="75.68" height="41.76" fill="#2e6497"/>
<rect x="956.70" y="100.66" width="75.68" height="41.76" fill="#2e6497"/>
<rect x="1032.08" y="100.66" width="75.68" height="41.76" fill="#2e6497"/>
<rect x="1107.46" y="100.66" width="75.68" height="41.76" fill="#336da4"/>
<rect x="1182.84" y="100.66" width="75.68" height="41.76" fill="#295a8a"/>
<rect x="1258.22" y="100.66" width="75.68" height="41.76" fill="#295a8a"/>
<rect x="1333.60" y="100.66" width="75.68" height="41.76" fill="#336da4"/>
<rect x="1408.98" y="100.66" width="75.68" height="41.76" fill="#3877b1"/>
<rect x="1484.36" y="100.66" width="75.68" height="41.76" fill="#3877b1"/>
<rect x="1559.74" y="100.66" width="75.68" height="41.76" fill="#3572aa"/>
<rect x="1635.12" y="100.66" width="75.38" height="41.76" fill="#275583"/>
<rect x="579.80" y="142.12" width="75.68" height="41.76" fill="#1c3e60"/>
<rect x="655.18" y="142.12" width="75.68" height="41.76" fill="#2e6497"/>
<rect x="730.56" y="142.12" width="75.68" height="41.76" fill="#336da4"/>
<rect x="805.94" y="142.12" width="75.68" height="41.76" fill="#336da4"/>
<rect x="881.32" y="142.12" width="75.68" height="41.76" fill="#3877b1"/>
<rect x="956.70" y="142.12" width="75.68" height="41.76" fill="#336da4"/>
<rect x="1032.08" y="142.12" width="75.68" height="41.76" fill="#3d80bd"/>
<rect x="1107.46" y="142.12" width="75.68" height="41.76" fill="#3d80bd"/>
<rect x="1182.84" y="142.12" width="75.68" height="41.76" fill="#3d80bd"/>
<rect x="1258.22" y="142.12" width="75.68" height="41.76" fill="#3877b1"/>
<rect x="1333.60" y="142.12" width="75.68" height="41.76" fill="#428ac9"/>
<rect x="1408.98" y="142.12" width="75.68" height="41.76" fill="#4794d5"/>
<rect x="1484.36" y="142.12" width="75.68" height="41.76" fill="#4794d5"/>
<rect x="1559.74" y="142.12" width="75.68" height="41.76" fill="#428ac9"/>
<rect x="1635.12" y="142.12" width="75.38" height="41.76" fill="#428ac9"/>
<rect x="579.80" y="183.58" width="75.68" height="41.76" fill="#4794d5"/>
<rect x="655.18" y="183.58" width="75.68" height="41.76" fill="#4c9ee1"/>
<rect x="730.56" y="183.58" width="75.68" height="41.76" fill="#4c9ee1"/>
<rect x="805.94" y="183.58" width="75.68" height="41.76" fill="#4c9ee1"/>
<rect x="881.32" y="183.58" width="75.68" height="41.76" fill="#4c9ee1"/>
<rect x="956.70" y="183.58" width="75.68" height="41.76" fill="#4c9ee1"/>
<rect x="1032.08" y="183.58" width="75.68" height="41.76" fill="#4c9ee1"/>
<rect x="1107.46" y="183.58" width="75.68" height="41.76" fill="#4c9ee1"/>
<rect x="1182.84" y="183.58" width="75.68" height="41.76" fill="#4c9ee1"/>
<rect x="1258.22" y="183.58" width="75.68" height="41.76" fill="#4c9ee1"/>
<rect x="1333.60" y="183.58" width="75.68" height="41.76" fill="#4c9ee1"/>
<rect x="1408.98" y="183.58" width="75.68" height="41.76" fill="#4c9ee1"/>
<rect x="1484.36" y="183.58" width="75.68" height="41.76" fill="#4c9ee1"/>
<rect x="1559.74" y="183.58" width="75.68" height="41.76" fill="#4794d5"/>
<rect x="1635.12" y="183.58" width="75.38" height="41.76" fill="#4794d5"/>
<rect x="579.80" y="225.04" width="75.68" height="41.76" fill="#3a7cb7"/>
<rect x="655.18" y="225.04" width="75.68" height="41.76" fill="#275583"/>
<rect x="730.56" y="225.04" width="75.68" height="41.76" fill="#1e4267"/>
<rect x="805.94" y="225.04" width="75.68" height="41.76" fill="#1e4267"/>
<rect x="881.32" y="225.04" width="75.68" height="41.76" fill="#1e4267"/>
<rect x="956.70" y="225.04" width="75.68" height="41.76" fill="#1e4267"/>
<rect x="1032.08" y="225.04" width="75.68" height="41.76" fill="#1e4267"/>
<rect x="1107.46" y="225.04" width="75.68" height="41.76" fill="#1e4267"/>
<rect x="1182.84" y="225.04" width="75.68" height="41.76" fill="#1e4267"/>
<rect x="1258.22" y="225.04" width="75.68" height="41.76" fill="#1e4267"/>
<rect x="1333.60" y="225.04" width="75.68" height="41.76" fill="#1e4267"/>
<rect x="1408.98" y="225.04" width="75.68" height="41.76" fill="#224c75"/>
<rect x="1484.36" y="225.04" width="75.68" height="41.76" fill="#224c75"/>
<rect x="1559.74" y="225.04" width="75.68" height="41.76" fill="#20476e"/>
<rect x="1635.12" y="225.04" width="75.38" height="41.76" fill="#3d80bd"/>
<rect x="579.80" y="266.50" width="75.68" height="41.76" fill="#4c9ee1"/>
<rect x="655.18" y="266.50" width="75.68" height="41.76" fill="#51a7ec"/>
<rect x="730.56" y="266.50" width="75.68" height="41.76" fill="#51a7ec"/>
<rect x="805.94" y="266.50" width="75.68" height="41.76" fill="#51a7ec"/>
<rect x="881.32" y="266.50" width="75.68" height="41.76" fill="#51a7ec"/>
<rect x="956.70" y="266.50" width="75.68" height="41.76" fill="#51a7ec"/>
<rect x="1032.08" y="266.50" width="75.68" height="41.76" fill="#51a7ec"/>
<rect x="1107.46" y="266.50" width="75.68" height="41.76" fill="#51a7ec"/>
<rect x="1182.84" y="266.50" width="75.68" height="41.76" fill="#51a7ec"/>
<rect x="1258.22" y="266.50" width="75.68" height="41.76" fill="#51a7ec"/>
<rect x="1333.60" y="266.50" width="75.68" height="41.76" fill="#51a7ec"/>
<rect x="1408.98" y="266.50" width="75.68" height="41.76" fill="#51a7ec"/>
<rect x="1484.36" y="266.50" width="75.68" height="41.76" fill="#51a7ec"/>
<rect x="1559.74" y="266.50" width="75.68" height="41.76" fill="#51a7ec"/>
<rect x="1635.12" y="266.50" width="75.38" height="41.76" fill="#51a7ec"/>
<rect x="579.80" y="307.96" width="75.68" height="41.76" fill="#295a8a"/>
<rect x="655.18" y="307.96" width="75.68" height="41.76" fill="#3877b1"/>
<rect x="730.56" y="307.96" width="75.68" height="41.76" fill="#3d80bd"/>
<rect x="805.94" y="307.96" width="75.68" height="41.76" fill="#3877b1"/>
<rect x="881.32" y="307.96" width="75.68" height="41.76" fill="#4794d5"/>
<rect x="956.70" y="307.96" width="75.68" height="41.76" fill="#4794d5"/>
<rect x="1032.08" y="307.96" width="75.68" height="41.76" fill="#4794d5"/>
<rect x="1107.46" y="307.96" width="75.68" height="41.76" fill="#4794d5"/>
<rect x="1182.84" y="307.96" width="75.68" height="41.76" fill="#4794d5"/>
<rect x="1258.22" y="307.96" width="75.68" height="41.76" fill="#4794d5"/>
<rect x="1333.60" y="307.96" width="75.68" height="41.76" fill="#4794d5"/>
<rect x="1408.98" y="307.96" width="75.68" height="41.76" fill="#3d80bd"/>
<rect x="1484.36" y="307.96" width="75.68" height="41.76" fill="#336da4"/>
<rect x="1559.74" y="307.96" width="75.68" height="41.76" fill="#2e6497"/>
<rect x="1635.12" y="307.96" width="75.38" height="41.76" fill="#20476e"/>
<rect x="579.80" y="349.42" width="75.68" height="41.76" fill="#2e6497"/>
<rect x="655.18" y="349.42" width="75.68" height="41.76" fill="#428ac9"/>
<rect x="730.56" y="349.42" width="75.68" height="41.76" fill="#428ac9"/>
<rect x="805.94" y="349.42" width="75.68" height="41.76" fill="#3d80bd"/>
<rect x="881.32" y="349.42" width="75.68" height="41.76" fill="#428ac9"/>
<rect x="956.70" y="349.42" width="75.68" height="41.76" fill="#3d80bd"/>
<rect x="1032.08" y="349.42" width="75.68" height="41.76" fill="#428ac9"/>
<rect x="1107.46" y="349.42" width="75.68" height="41.76" fill="#428ac9"/>
<rect x="1182.84" y="349.42" width="75.68" height="41.76" fill="#428ac9"/>
<rect x="1258.22" y="349.42" width="75.68" height="41.76" fill="#428ac9"/>
<rect x="1333.60" y="349.42" width="75.68" height="41.76" fill="#3d80bd"/>
<rect x="1408.98" y="349.42" width="75.68" height="41.76" fill="#428ac9"/>
<rect x="1484.36" y="349.42" width="75.68" height="41.76" fill="#3d80bd"/>
<rect x="1559.74" y="349.42" width="75.68" height="41.76" fill="#3d80bd"/>
<rect x="1635.12" y="349.42" width="75.38" height="41.76" fill="#336da4"/>
<rect x="579.80" y="390.88" width="75.68" height="41.76" fill="#3a7cb7"/>
<rect x="655.18" y="390.88" width="75.68" height="41.76" fill="#275583"/>
<rect x="730.56" y="390.88" width="75.68" height="41.76" fill="#1e4267"/>
<rect x="805.94" y="390.88" width="75.68" height="41.76" fill="#1e4267"/>
<rect x="881.32" y="390.88" width="75.68" height="41.76" fill="#1e4267"/>
<rect x="956.70" y="390.88" width="75.68" height="41.76" fill="#1e4267"/>
<rect x="1032.08" y="390.88" width="75.68" height="41.76" fill="#1e4267"/>
<rect x="1107.46" y="390.88" width="75.68" height="41.76" fill="#1e4267"/>
<rect x="1182.84" y="390.88" width="75.68" height="41.76" fill="#1e4267"/>
<rect x="1258.22" y="390.88" width="75.68" height="41.76" fill="#1e4267"/>
<rect x="1333.60" y="390.88" width="75.68" height="41.76" fill="#1e4267"/>
<rect x="1408.98" y="390.88" width="75.68" height="41.76" fill="#224c75"/>
<rect x="1484.36" y="390.88" width="75.68" height="41.76" fill="#224c75"/>
<rect x="1559.74" y="390.88" width="75.68" height="41.76" fill="#3572aa"/>
<rect x="1635.12" y="390.88" width="75.38" height="41.76" fill="#275583"/>
<rect x="579.80" y="432.34" width="75.68" height="41.76" fill="#173452"/>
<rect x="655.18" y="432.34" width="75.68" height="41.76" fill="#173452"/>
<rect x="730.56" y="432.34" width="75.68" height="41.76" fill="#173452"/>
<rect x="805.94" y="432.34" width="75.68" height="41.76" fill="#173452"/>
<rect x="881.32" y="432.34" width="75.68" height="41.76" fill="#132b43"/>
<rect x="956.70" y="432.34" width="75.68" height="41.76" fill="#132b43"/>
<rect x="1032.08" y="432.34" width="75.68" height="41.76" fill="#132b43"/>
<rect x="1107.46" y="432.34" width="75.68" height="41.76" fill="#173452"/>
<rect x="1182.84" y="432.34" width="75.68" height="41.76" fill="#132b43"/>
<rect x="1258.22" y="432.34" width="75.68" height="41.76" fill="#132b43"/>
<rect x="1333.60" y="432.34" width="75.68" height="41.76" fill="#173452"/>
<rect x="1408.98" y="432.34" width="75.68" height="41.76" fill="#132b43"/>
<rect x="1484.36" y="432.34" width="75.68" height="41.76" fill="#173452"/>
<rect x="1559.74" y="432.34" width="75.68" height="41.76" fill="#173452"/>
<rect x="1635.12" y="432.34" width="75.38" height="41.76" fill="#173452"/>
<rect x="579.80" y="473.80" width="75.68" height="41.76" fill="#336da4"/>
<rect x="655.18" y="473.80" width="75.68" height="41.76" fill="#3d80bd"/>
<rect x="730.56" y="473.80" width="75.68" height="41.76" fill="#295a8a"/>
<rect x="805.94" y="473.80" width="75.68" height="41.76" fill="#25507c"/>
<rect x="881.32" y="473.80" width="75.68" height="41.76" fill="#25507c"/>
<rect x="956.70" y="473.80" width="75.68" height="41.76" fill="#295a8a"/>
<rect x="1032.08" y="473.80" width="75.68" height="41.76" fill="#295a8a"/>
<rect x="1107.46" y="473.80" width="75.68" height="41.76" fill="#2e6497"/>
<rect x="1182.84" y="473.80" width="75.68" height="41.76" fill="#2e6497"/>
<rect x="1258.22" y="473.80" width="75.68" height="41.76" fill="#336da4"/>
<rect x="1333.60" y="473.80" width="75.68" height="41.76" fill="#2e6497"/>
<rect x="1408.98" y="473.80" width="75.68" height="41.76" fill="#295a8a"/>
<rect x="1484.36" y="473.80" width="75.68" height="41.76" fill="#295a8a"/>
<rect x="1559.74" y="473.80" width="75.68" height="41.76" fill="#25507c"/>
<rect x="1635.12" y="473.80" width="75.38" height="41.76" fill="#2e6497"/>
<rect x="579.80" y="515.26" width="75.68" height="41.76" fill="#428ac9"/>
<rect x="655.18" y="515.26" width="75.68" height="41.76" fill="#336da4"/>
<rect x="730.56" y="515.26" width="75.68" height="41.76" fill="#2e6497"/>
<rect x="805.94" y="515.26" width="75.68" height="41.76" fill="#295a8a"/>
<rect x="881.32" y="515.26" width="75.68" height="41.76" fill="#295a8a"/>
<rect x="956.70" y="515.26" width="75.68" height="41.76" fill="#25507c"/>
<rect x="1032.08" y="515.26" width="75.68" height="41.76" fill="#25507c"/>
<rect x="1107.46" y="515.26" width="75.68" height="41.76" fill="#295a8a"/>
<rect x="1182.84" y="515.26" width="75.68" height="41.76" fill="#336da4"/>
<rect x="1258.22" y="515.26" width="75.68" height="41.76" fill="#2e6497"/>
<rect x="1333.60" y="515.26" width="75.68" height="41.76" fill="#295a8a"/>
<rect x="1408.98" y="515.26" width="75.68" height="41.76" fill="#2e6497"/>
<rect x="1484.36" y="515.26" width="75.68" height="41.76" fill="#2e6497"/>
<rect x="1559.74" y="515.26" width="75.68" height="41.76" fill="#295a8a"/>
<rect x="1635.12" y="515.26" width="75.38" height="41.76" fill="#3877b1"/>
<rect x="579.80" y="556.72" width="75.68" height="41.76" fill="#20476e"/>
<rect x="655.18" y="556.72" width="75.68" height="41.76" fill="#1c3e60"/>
<rect x="730.56" y="556.72" width="75.68" height="41.76" fill="#3877b1"/>
<rect x="805.94" y="556.72" width="75.68" height="41.76" fill="#4794d5"/>
<rect x="881.32" y="556.72" width="75.68" height="41.76" fill="#3d80bd"/>
<rect x="956.70" y="556.72" width="75.68" height="41.76" fill="#428ac9"/>
<rect x="1032.08" y="556.72" width="75.68" height="41.76" fill="#3877b1"/>
<rect x="1107.46" y="556.72" width="75.68" height="41.76" fill="#25507c"/>
<rect x="1182.84" y="556.72" width="75.68" height="41.76" fill="#25507c"/>
<rect x="1258.22" y="556.72" width="75.68" height="41.76" fill="#25507c"/>
<rect x="1333.60" y="556.72" width="75.68" height="41.76" fill="#25507c"/>
<rect x="1408.98" y="556.72" width="75.68" height="41.76" fill="#1c3e60"/>
<rect x="1484.36" y="556.72" width="75.68" height="41.76" fill="#1c3e60"/>
<rect x="1559.74" y="556.72" width="75.68" height="41.76" fill="#1c3e60"/>
<rect x="1635.12" y="556.72" width="75.38" height="41.76" fill="#1c3e60"/>
<rect x="579.80" y="598.18" width="75.68" height="41.76" fill="#51a7ec"/>
<rect x="655.18" y="598.18" width="75.68" height="41.76" fill="#4794d5"/>
<rect x="730.56" y="598.18" width="75.68" height="41.76" fill="#4794d5"/>
<rect x="805.94" y="598.18" width="75.68" height="41.76" fill="#428ac9"/>
<rect x="881.32" y="598.18" width="75.68" height="41.76" fill="#336da4"/>
<rect x="956.70" y="598.18" width="75.68" height="41.76" fill="#3877b1"/>
<rect x="1032.08" y="598.18" width="75.68" height="41.76" fill="#336da4"/>
<rect x="1107.46" y="598.18" width="75.68" height="41.76" fill="#3877b1"/>
<rect x="1182.84" y="598.18" width="75.68" height="41.76" fill="#3877b1"/>
<rect x="1258.22" y="598.18" width="75.68" height="41.76" fill="#3d80bd"/>
<rect x="1333.60" y="598.18" width="75.68" height="41.76" fill="#3877b1"/>
<rect x="1408.98" y="598.18" width="75.68" height="41.76" fill="#336da4"/>
<rect x="1484.36" y="598.18" width="75.68" height="41.76" fill="#428ac9"/>
<rect x="1559.74" y="598.18" width="75.68" height="41.76" fill="#4c9ee1"/>
<rect x="1635.12" y="598.18" width="75.38" height="41.76" fill="#4c9ee1"/>
<rect x="579.80" y="639.64" width="75.68" height="41.46" fill="#132b43"/>
<rect x="655.18" y="639.64" width="75.68" height="41.46" fill="#132b43"/>
<rect x="730.56" y="639.64" width="75.68" height="41.46" fill="#132b43"/>
<rect x="805.94" y="639.64" width="75.68" height="41.46" fill="#132b43"/>
<rect x="881.32" y="639.64" width="75.68" height="41.46" fill="#173452"/>
<rect x="956.70" y="639.64" width="75.68" height="41.46" fill="#173452"/>
<rect x="1032.08" y="639.64" width="75.68" height="41.46" fill="#173452"/>
<rect x="1107.46" y="639.64" width="75.68" height="41.46" fill="#132b43"/>
<rect x="1182.84" y="639.64" width="75.68" height="41.46" fill="#173452"/>
<rect x="1258.22" y="639.64" width="75.68" height="41.46" fill="#173452"/>
<rect x="1333.60" y="639.64" width="75.68" height="41.46" fill="#132b43"/>
<rect x="1408.98" y="639.64" width="75.68" height="41.46" fill="#173452"/>
<rect x="1484.36" y="639.64" width="75.68" height="41.46" fill="#132b43"/>
<rect x="1559.74" y="639.64" width="75.68" height="41.46" fill="#132b43"/>
<rect x="1635.12" y="639.64" width="75.38" height="41.46" fill="#132b43"/>
<path d="M579.8 59.20H1710.5M579.8 100.66H1710.5M579.8 142.12H1710.5M579.8 183.58H1710.5M579.8 225.04H1710.5M579.8 266.50H1710.5M579.8 307.96H1710.5M579.8 349.42H1710.5M579.8 390.88H1710.5M579.8 432.34H1710.5M579.8 473.80H1710.5M579.8 515.26H1710.5M579.8 556.72H1710.5M579.8 598.18H1710.5M579.8 639.64H1710.5M579.8 681.10H1710.5M579.80 59.2V681.1M655.18 59.2V681.1M730.56 59.2V681.1M805.94 59.2V681.1M881.32 59.2V681.1M956.70 59.2V681.1M1032.08 59.2V681.1M1107.46 59.2V681.1M1182.84 59.2V681.1M1258.22 59.2V681.1M1333.60 59.2V681.1M1408.98 59.2V681.1M1484.36 59.2V681.1M1559.74 59.2V681.1M1635.12 59.2V681.1M1710.50 59.2V681.1" stroke="#e4f2ff" stroke-opacity="0.62" stroke-width="1.0" fill="none"/>
<g class="cl" text-anchor="middle">
<text x="617.5" y="89.1">15</text>
<text x="692.9" y="89.1">15</text>
<text x="768.2" y="89.1">15</text>
<text x="843.6" y="89.1">15</text>
<text x="919.0" y="89.1">15</text>
<text x="994.4" y="89.1">15</text>
<text x="1069.8" y="89.1">15</text>
<text x="1145.2" y="89.1">15</text>
<text x="1220.5" y="89.1">15</text>
<text x="1295.9" y="89.1">15</text>
<text x="1371.3" y="89.1">15</text>
<text x="1446.7" y="89.1">15</text>
<text x="1522.1" y="89.1">15</text>
<text x="1597.4" y="89.1">15</text>
<text x="1672.8" y="89.1">15</text>
<text x="617.5" y="130.6">5</text>
<text x="692.9" y="130.6">4</text>
<text x="768.2" y="130.6">5</text>
<text x="843.6" y="130.6">7</text>
<text x="919.0" y="130.6">7</text>
<text x="994.4" y="130.6">7</text>
<text x="1069.8" y="130.6">7</text>
<text x="1145.2" y="130.6">8</text>
<text x="1220.5" y="130.6">6</text>
<text x="1295.9" y="130.6">6</text>
<text x="1371.3" y="130.6">8</text>
<text x="1446.7" y="130.6">9</text>
<text x="1522.1" y="130.6">9</text>
<text x="1597.4" y="130.6">8.5</text>
<text x="1672.8" y="130.6">5.5</text>
<text x="617.5" y="172.1">3</text>
<text x="692.9" y="172.1">7</text>
<text x="768.2" y="172.1">8</text>
<text x="843.6" y="172.1">8</text>
<text x="919.0" y="172.1">9</text>
<text x="994.4" y="172.1">8</text>
<text x="1069.8" y="172.1">10</text>
<text x="1145.2" y="172.1">10</text>
<text x="1220.5" y="172.1">10</text>
<text x="1295.9" y="172.1">9</text>
<text x="1371.3" y="172.1">11</text>
<text x="1446.7" y="172.1">12</text>
<text x="1522.1" y="172.1">12</text>
<text x="1597.4" y="172.1">11</text>
<text x="1672.8" y="172.1">11</text>
<text x="617.5" y="213.5">12</text>
<text x="692.9" y="213.5">13</text>
<text x="768.2" y="213.5">13</text>
<text x="843.6" y="213.5">13</text>
<text x="919.0" y="213.5">13</text>
<text x="994.4" y="213.5">13</text>
<text x="1069.8" y="213.5">13</text>
<text x="1145.2" y="213.5">13</text>
<text x="1220.5" y="213.5">13</text>
<text x="1295.9" y="213.5">13</text>
<text x="1371.3" y="213.5">13</text>
<text x="1446.7" y="213.5">13</text>
<text x="1522.1" y="213.5">13</text>
<text x="1597.4" y="213.5">12</text>
<text x="1672.8" y="213.5">12</text>
<text x="617.5" y="255.0">9.5</text>
<text x="692.9" y="255.0">5.5</text>
<text x="768.2" y="255.0">3.5</text>
<text x="843.6" y="255.0">3.5</text>
<text x="919.0" y="255.0">3.5</text>
<text x="994.4" y="255.0">3.5</text>
<text x="1069.8" y="255.0">3.5</text>
<text x="1145.2" y="255.0">3.5</text>
<text x="1220.5" y="255.0">3.5</text>
<text x="1295.9" y="255.0">3.5</text>
<text x="1371.3" y="255.0">3.5</text>
<text x="1446.7" y="255.0">4.5</text>
<text x="1522.1" y="255.0">4.5</text>
<text x="1597.4" y="255.0">4</text>
<text x="1672.8" y="255.0">10</text>
<text x="617.5" y="296.4">13</text>
<text x="692.9" y="296.4">14</text>
<text x="768.2" y="296.4">14</text>
<text x="843.6" y="296.4">14</text>
<text x="919.0" y="296.4">14</text>
<text x="994.4" y="296.4">14</text>
<text x="1069.8" y="296.4">14</text>
<text x="1145.2" y="296.4">14</text>
<text x="1220.5" y="296.4">14</text>
<text x="1295.9" y="296.4">14</text>
<text x="1371.3" y="296.4">14</text>
<text x="1446.7" y="296.4">14</text>
<text x="1522.1" y="296.4">14</text>
<text x="1597.4" y="296.4">14</text>
<text x="1672.8" y="296.4">14</text>
<text x="617.5" y="337.9">6</text>
<text x="692.9" y="337.9">9</text>
<text x="768.2" y="337.9">10</text>
<text x="843.6" y="337.9">9</text>
<text x="919.0" y="337.9">12</text>
<text x="994.4" y="337.9">12</text>
<text x="1069.8" y="337.9">12</text>
<text x="1145.2" y="337.9">12</text>
<text x="1220.5" y="337.9">12</text>
<text x="1295.9" y="337.9">12</text>
<text x="1371.3" y="337.9">12</text>
<text x="1446.7" y="337.9">10</text>
<text x="1522.1" y="337.9">8</text>
<text x="1597.4" y="337.9">7</text>
<text x="1672.8" y="337.9">4</text>
<text x="617.5" y="379.3">7</text>
<text x="692.9" y="379.3">11</text>
<text x="768.2" y="379.3">11</text>
<text x="843.6" y="379.3">10</text>
<text x="919.0" y="379.3">11</text>
<text x="994.4" y="379.3">10</text>
<text x="1069.8" y="379.3">11</text>
<text x="1145.2" y="379.3">11</text>
<text x="1220.5" y="379.3">11</text>
<text x="1295.9" y="379.3">11</text>
<text x="1371.3" y="379.3">10</text>
<text x="1446.7" y="379.3">11</text>
<text x="1522.1" y="379.3">10</text>
<text x="1597.4" y="379.3">10</text>
<text x="1672.8" y="379.3">8</text>
<text x="617.5" y="420.8">9.5</text>
<text x="692.9" y="420.8">5.5</text>
<text x="768.2" y="420.8">3.5</text>
<text x="843.6" y="420.8">3.5</text>
<text x="919.0" y="420.8">3.5</text>
<text x="994.4" y="420.8">3.5</text>
<text x="1069.8" y="420.8">3.5</text>
<text x="1145.2" y="420.8">3.5</text>
<text x="1220.5" y="420.8">3.5</text>
<text x="1295.9" y="420.8">3.5</text>
<text x="1371.3" y="420.8">3.5</text>
<text x="1446.7" y="420.8">4.5</text>
<text x="1522.1" y="420.8">4.5</text>
<text x="1597.4" y="420.8">8.5</text>
<text x="1672.8" y="420.8">5.5</text>
<text x="617.5" y="462.3">2</text>
<text x="692.9" y="462.3">2</text>
<text x="768.2" y="462.3">2</text>
<text x="843.6" y="462.3">2</text>
<text x="919.0" y="462.3">1</text>
<text x="994.4" y="462.3">1</text>
<text x="1069.8" y="462.3">1</text>
<text x="1145.2" y="462.3">2</text>
<text x="1220.5" y="462.3">1</text>
<text x="1295.9" y="462.3">1</text>
<text x="1371.3" y="462.3">2</text>
<text x="1446.7" y="462.3">1</text>
<text x="1522.1" y="462.3">2</text>
<text x="1597.4" y="462.3">2</text>
<text x="1672.8" y="462.3">2</text>
<text x="617.5" y="503.7">8</text>
<text x="692.9" y="503.7">10</text>
<text x="768.2" y="503.7">6</text>
<text x="843.6" y="503.7">5</text>
<text x="919.0" y="503.7">5</text>
<text x="994.4" y="503.7">6</text>
<text x="1069.8" y="503.7">6</text>
<text x="1145.2" y="503.7">7</text>
<text x="1220.5" y="503.7">7</text>
<text x="1295.9" y="503.7">8</text>
<text x="1371.3" y="503.7">7</text>
<text x="1446.7" y="503.7">6</text>
<text x="1522.1" y="503.7">6</text>
<text x="1597.4" y="503.7">5</text>
<text x="1672.8" y="503.7">7</text>
<text x="617.5" y="545.2">11</text>
<text x="692.9" y="545.2">8</text>
<text x="768.2" y="545.2">7</text>
<text x="843.6" y="545.2">6</text>
<text x="919.0" y="545.2">6</text>
<text x="994.4" y="545.2">5</text>
<text x="1069.8" y="545.2">5</text>
<text x="1145.2" y="545.2">6</text>
<text x="1220.5" y="545.2">8</text>
<text x="1295.9" y="545.2">7</text>
<text x="1371.3" y="545.2">6</text>
<text x="1446.7" y="545.2">7</text>
<text x="1522.1" y="545.2">7</text>
<text x="1597.4" y="545.2">6</text>
<text x="1672.8" y="545.2">9</text>
<text x="617.5" y="586.7">4</text>
<text x="692.9" y="586.7">3</text>
<text x="768.2" y="586.7">9</text>
<text x="843.6" y="586.7">12</text>
<text x="919.0" y="586.7">10</text>
<text x="994.4" y="586.7">11</text>
<text x="1069.8" y="586.7">9</text>
<text x="1145.2" y="586.7">5</text>
<text x="1220.5" y="586.7">5</text>
<text x="1295.9" y="586.7">5</text>
<text x="1371.3" y="586.7">5</text>
<text x="1446.7" y="586.7">3</text>
<text x="1522.1" y="586.7">3</text>
<text x="1597.4" y="586.7">3</text>
<text x="1672.8" y="586.7">3</text>
<text x="617.5" y="628.1">14</text>
<text x="692.9" y="628.1">12</text>
<text x="768.2" y="628.1">12</text>
<text x="843.6" y="628.1">11</text>
<text x="919.0" y="628.1">8</text>
<text x="994.4" y="628.1">9</text>
<text x="1069.8" y="628.1">8</text>
<text x="1145.2" y="628.1">9</text>
<text x="1220.5" y="628.1">9</text>
<text x="1295.9" y="628.1">10</text>
<text x="1371.3" y="628.1">9</text>
<text x="1446.7" y="628.1">8</text>
<text x="1522.1" y="628.1">11</text>
<text x="1597.4" y="628.1">13</text>
<text x="1672.8" y="628.1">13</text>
<text x="617.5" y="669.6">1</text>
<text x="692.9" y="669.6">1</text>
<text x="768.2" y="669.6">1</text>
<text x="843.6" y="669.6">1</text>
<text x="919.0" y="669.6">2</text>
<text x="994.4" y="669.6">2</text>
<text x="1069.8" y="669.6">2</text>
<text x="1145.2" y="669.6">1</text>
<text x="1220.5" y="669.6">2</text>
<text x="1295.9" y="669.6">2</text>
<text x="1371.3" y="669.6">1</text>
<text x="1446.7" y="669.6">2</text>
<text x="1522.1" y="669.6">1</text>
<text x="1597.4" y="669.6">1</text>
<text x="1672.8" y="669.6">1</text>
</g>
<rect x="572.85" y="55.9" width="1144.7" height="628.8" fill="none" stroke="#222222" stroke-width="2.0"/>
<path d="M560.6 79.93H571.8M560.6 121.39H571.8M560.6 162.85H571.8M560.6 204.31H571.8M560.6 245.77H571.8M560.6 287.23H571.8M560.6 328.69H571.8M560.6 370.15H571.8M560.6 411.61H571.8M560.6 453.07H571.8M560.6 494.53H571.8M560.6 535.99H571.8M560.6 577.45H571.8M560.6 618.91H571.8M560.6 660.37H571.8M617.49 685.8V695.8M692.87 685.8V695.8M768.25 685.8V695.8M843.63 685.8V695.8M919.01 685.8V695.8M994.39 685.8V695.8M1069.77 685.8V695.8M1145.15 685.8V695.8M1220.53 685.8V695.8M1295.91 685.8V695.8M1371.29 685.8V695.8M1446.67 685.8V695.8M1522.05 685.8V695.8M1597.43 685.8V695.8M1672.81 685.8V695.8" stroke="#2a2a2a" stroke-width="3.2" fill="none"/>
<g class="ax" text-anchor="end">
<text x="552.6" y="89.4">Quantile regression (QR)</text>
<text x="552.6" y="130.9">Quantile regression forests (QRF)</text>
<text x="552.6" y="172.4">Generalized random forests (GRF)</text>
<text x="552.6" y="213.8">Gradient boosting machines (GBM)</text>
<text x="552.6" y="255.3">Light gradient boosting machines (LightGBM)</text>
<text x="552.6" y="296.7">Quantile regression neural networks (QRNN)</text>
<text x="552.6" y="338.2">Mean combiner</text>
<text x="552.6" y="379.6">Median combiner</text>
<text x="552.6" y="421.1">Best learner</text>
<text x="552.6" y="462.6">Stacking with QR</text>
<text x="552.6" y="504.0">Stacking with QRF</text>
<text x="552.6" y="545.5">Stacking with GRF</text>
<text x="552.6" y="587.0">Stacking with GBM</text>
<text x="552.6" y="628.4">Stacking with LightGBM</text>
<text x="552.6" y="669.9">Stacking with QRNN</text>
</g>
<g class="ax" text-anchor="middle">
<text x="617.5" y="726.0">0.025</text>
<text x="692.9" y="726.0">0.050</text>
<text x="768.2" y="726.0">0.075</text>
<text x="843.6" y="726.0">0.100</text>
<text x="919.0" y="726.0">0.200</text>
<text x="994.4" y="726.0">0.300</text>
<text x="1069.8" y="726.0">0.400</text>
<text x="1145.2" y="726.0">0.500</text>
<text x="1220.5" y="726.0">0.600</text>
<text x="1295.9" y="726.0">0.700</text>
<text x="1371.3" y="726.0">0.800</text>
<text x="1446.7" y="726.0">0.900</text>
<text x="1522.1" y="726.0">0.925</text>
<text x="1597.4" y="726.0">0.950</text>
<text x="1672.8" y="726.0">0.975</text>
</g>
<text class="at" x="1145.2" y="762.6" text-anchor="middle">Quantile level</text>
<text class="at" transform="translate(32.4,370.3) rotate(-90)" text-anchor="middle">Learner</text>
</g>
</svg>
</body></html>
